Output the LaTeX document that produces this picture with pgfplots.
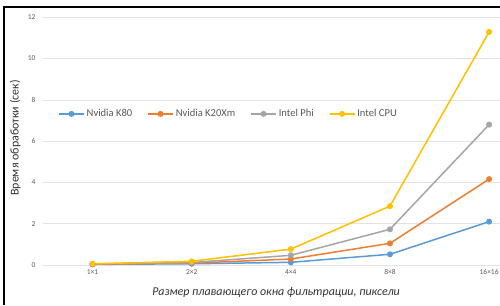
\documentclass[border=0pt]{standalone}
\usepackage{pgfplots}
\pgfplotsset{compat=1.18}
\usepackage{fontspec}
\setmainfont{Carlito}
\definecolor{cK80}{HTML}{5B9BD5}
\definecolor{cK20}{HTML}{ED7D31}
\definecolor{cPhi}{HTML}{A5A5A5}
\definecolor{cCPU}{HTML}{FFC000}
\definecolor{tick}{HTML}{595959}
\begin{document}
\begin{tikzpicture}[x=1bp,y=1bp]
\useasboundingbox (0,0) rectangle (500,305);
\fill[white] (0,0) rectangle (500,305);
\draw[line width=1.6bp] (4,0) -- (4,298) -- (500,298);
\begin{axis}[
  at={(43bp,40bp)}, anchor=south west,
  scale only axis, width=457bp, height=247.7bp,
  xmin=-0.5, xmax=4.11, ymin=0, ymax=12,
  axis x line*=bottom, axis y line*=left,
  axis line style={draw=none},
  major tick length=0pt,
  xtick={0,1,2,3,4},
  xticklabels={1×1,2×2,4×4,8×8,16×16},
  ytick={0,2,4,6,8,10,12},
  ymajorgrids, grid style={draw=gray!22, line width=0.6bp},
  tick label style={font=\fontsize{7.5}{8.5}\selectfont, text=tick},
  /pgf/number format/assume math mode=true,
  xticklabel style={yshift=-1bp},
  yticklabel style={xshift=-4bp},
  xlabel={\itshape Размер плавающего окна фильтрации, пиксели},
  xlabel style={at={(axis description cs:0.51,-0.11)}, anchor=center, font=\fontsize{12}{14}\selectfont, text=black!80},
  ylabel={Время обработки (сек)},
  ylabel style={at={(axis description cs:-0.061,0.513)}, anchor=center, rotate=0, font=\fontsize{12}{14}\selectfont, text=black!80},
  legend style={at={(axis description cs:0.0328,0.61)}, anchor=west, draw=none, fill=none, inner sep=0pt,
    legend columns=-1, font=\fontsize{10.6}{12}\selectfont, text=tick,
    /tikz/every even column/.append style={column sep=13bp}},
  legend image code/.code={\draw[mark repeat=2,mark phase=2] plot coordinates {(0bp,0bp)(12.5bp,0bp)(25bp,0bp)};},
  every axis plot/.append style={line width=1.5bp, mark=*, mark size=2.2bp},
]
\addplot[color=cK80, mark options={fill=cK80}] coordinates {(0,0.03) (1,0.06) (2,0.13) (3,0.52) (4,2.10)};
\addplot[color=cK20, mark options={fill=cK20}] coordinates {(0,0.04) (1,0.09) (2,0.29) (3,1.05) (4,4.16)};
\addplot[color=cPhi, mark options={fill=cPhi}] coordinates {(0,0.05) (1,0.12) (2,0.47) (3,1.73) (4,6.80)};
\addplot[color=cCPU, mark options={fill=cCPU}] coordinates {(0,0.06) (1,0.18) (2,0.77) (3,2.85) (4,11.29)};
\legend{Nvidia K80, Nvidia K20Xm, Intel Phi, Intel CPU}
\end{axis}
\end{tikzpicture}
\end{document}
